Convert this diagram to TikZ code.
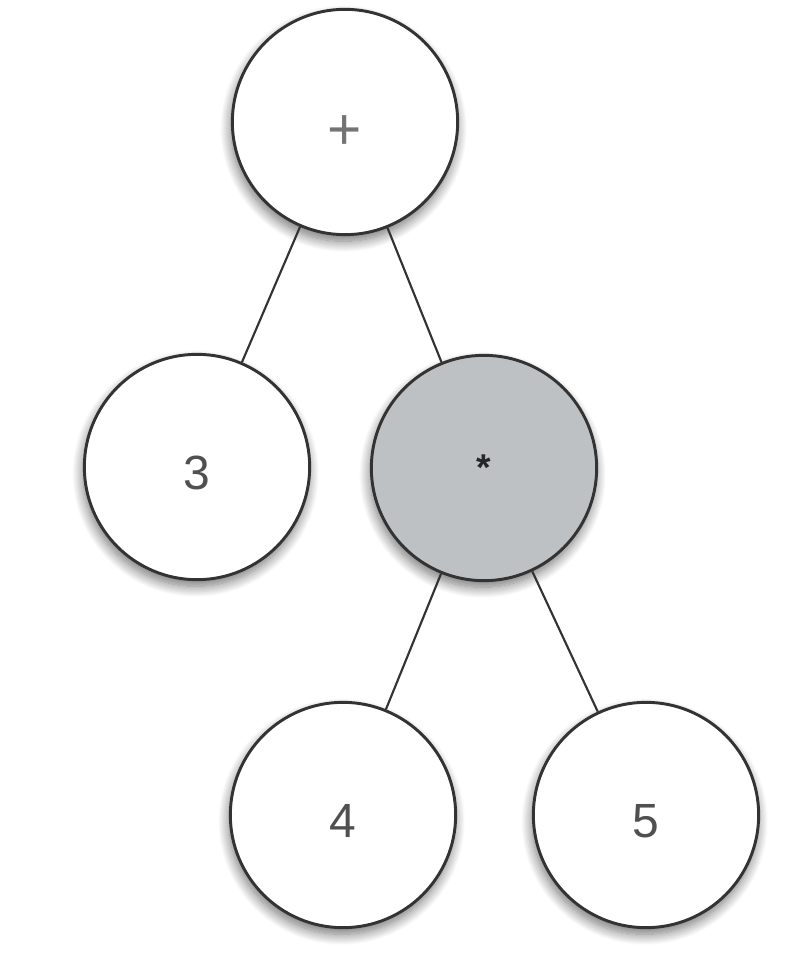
\documentclass[tikz,border=0pt]{standalone}
\usepackage{fontspec}
\setmainfont{Liberation Sans}
\usetikzlibrary{shadows.blur}
\definecolor{edgecol}{HTML}{333333}
\definecolor{txtcol}{HTML}{505050}
\definecolor{graycirc}{HTML}{BDC1C4}
\tikzset{
  treenode/.style={circle, draw=edgecol, line width=2.2pt, fill=white,
    minimum size=169pt, inner sep=0pt, text=txtcol,
    font=\fontsize{36}{40}\selectfont,
    blur shadow={shadow xshift=-1pt, shadow yshift=-5pt, shadow blur steps=14, shadow blur radius=8pt, shadow opacity=55}},
  digitnode/.style={treenode, text height=33pt, text depth=0pt},
  opnode/.style={treenode, fill=graycirc},
  link/.style={draw=edgecol, line width=1.6pt}
}
\begin{document}
\begin{tikzpicture}[x=0.75pt, y=-0.75pt]
\useasboundingbox (0,0) rectangle (808,969);
\node[treenode] (plus) at (345,122) {\smash{\raisebox{-21pt}{\fontsize{44}{48}\selectfont\textcolor{black!55}{+}}}};
\node[digitnode] (three) at (197,467) {3};
\node[opnode] (times) at (484,468) {\smash{\raisebox{-9.5pt}{\fontsize{28}{32}\selectfont\bfseries\textcolor{black!85}{*}}}};
\node[digitnode] (four) at (343,815) {4};
\node[digitnode] (five) at (646,815) {5};
\draw[link] (plus) -- (three);
\draw[link] (plus) -- (times);
\draw[link] (times) -- (four);
\draw[link] (times) -- (five);
\end{tikzpicture}
\end{document}
